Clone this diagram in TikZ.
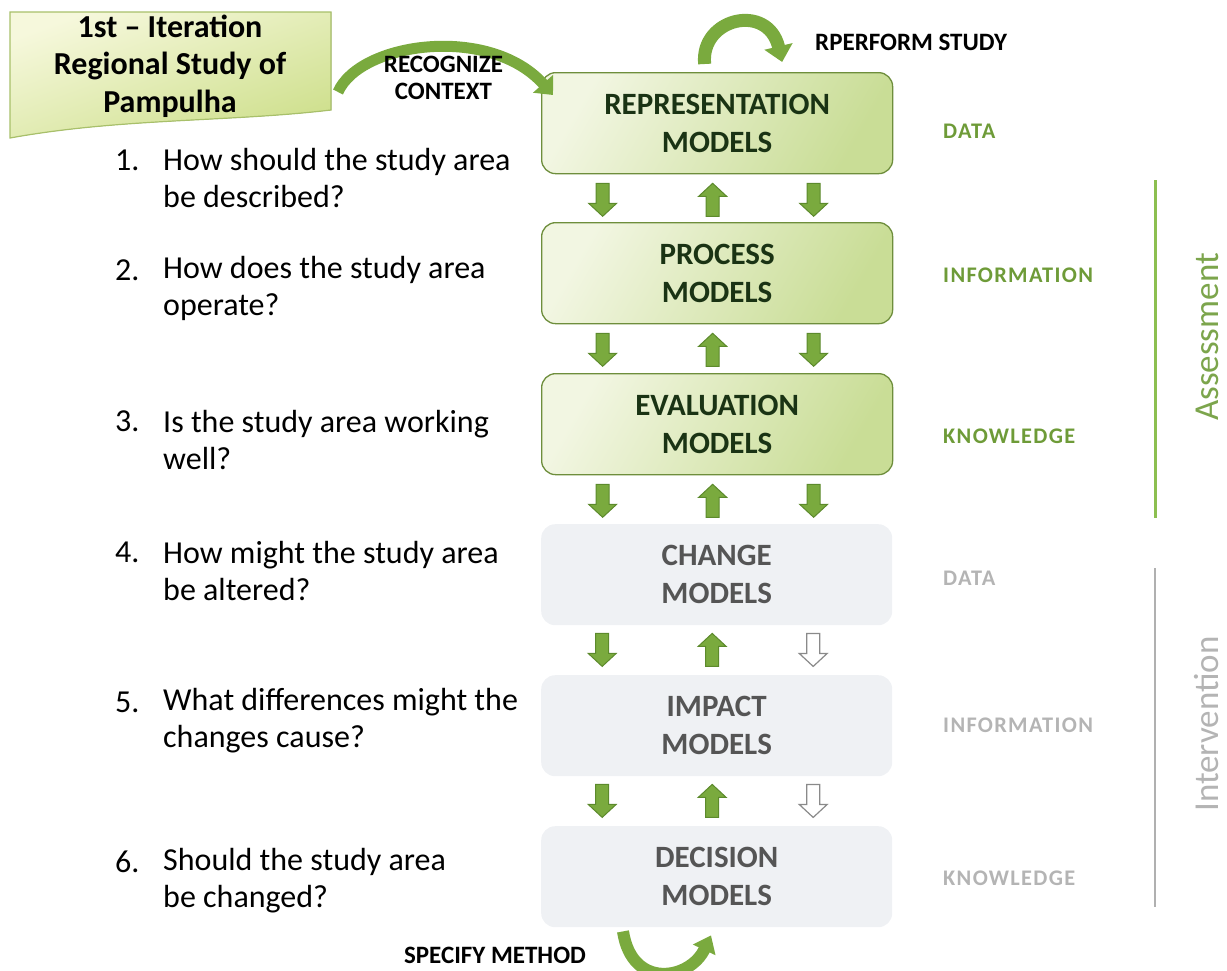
\documentclass[tikz,border=0pt]{standalone}
\usepackage{fontspec}
\setmainfont{Carlito}
\newfontfamily\spacedfont[LetterSpace=6]{Carlito}
\usetikzlibrary{arrows.meta,calc}

\definecolor{boxlight}{HTML}{F2F6E2}
\definecolor{boxgreen}{HTML}{C9DD96}
\definecolor{boxborder}{HTML}{6E8E3C}
\definecolor{darkgreen}{HTML}{1A3314}
\definecolor{graybox}{HTML}{EFF1F4}
\definecolor{graytext}{HTML}{555555}
\definecolor{labelgreen}{HTML}{6E9B38}
\definecolor{labelgray}{HTML}{B4B4B4}
\definecolor{linegreen}{HTML}{8CBF50}
\definecolor{linegray}{HTML}{B0B0B0}
\definecolor{arrfill}{HTML}{7AAA3E}
\definecolor{arrborder}{HTML}{5C8A2C}
\definecolor{arrhollow}{HTML}{8A8A8A}
\definecolor{bannerlight}{HTML}{F6F8DC}
\definecolor{bannergreen}{HTML}{CFE08E}
\definecolor{bannerborder}{HTML}{A8C06A}

\tikzset{
  pics/dnarr/.style={code={\filldraw[#1] (-6.5,0) -- (6.5,0) -- (6.5,20) -- (14,20) -- (0,33) -- (-14,20) -- (-6.5,20) -- cycle;}},
  pics/uparr/.style={code={\filldraw[#1] (-6.5,33) -- (6.5,33) -- (6.5,13) -- (14,13) -- (0,0) -- (-14,13) -- (-6.5,13) -- cycle;}},
  solidarr/.style={fill=arrfill, draw=arrborder, line width=1pt, line join=miter},
  hollowarr/.style={fill=white, draw=arrhollow, line width=1.2pt, line join=miter},
  curvearr/.style={draw=arrfill, line width=13pt},
  model/.style={rounded corners=14pt, minimum width=351pt, minimum height=101pt, align=center,
    font=\fontsize{31}{38}\selectfont\bfseries, inner sep=0pt, anchor=north west},
  greenmodel/.style={model, draw=boxborder, line width=1.3pt, left color=boxlight, right color=boxgreen, shading angle=60, text=darkgreen},
  graymodel/.style={model, fill=graybox, text=graytext},
  question/.style={anchor=west, align=left, font=\fontsize{32}{37}\selectfont, inner sep=0pt},
  qnum/.style={anchor=west, font=\fontsize{32}{37}\selectfont, inner sep=0pt},
  levelgreen/.style={anchor=west, inner sep=0pt, text=labelgreen, font=\spacedfont\fontsize{22.3}{25}\selectfont\bfseries},
  levelgray/.style={levelgreen, text=labelgray},
  actlabel/.style={align=center, inner sep=0pt, font=\fontsize{25}{27.5}\selectfont\bfseries},
  phase/.style={rotate=90, inner sep=0pt, anchor=base, font=\fontsize{35}{40}\selectfont},
}

\begin{document}
\begin{tikzpicture}[x=1pt,y=-1pt]
\useasboundingbox (0,0) rectangle (1227,970);

% banner
\filldraw[draw=bannerborder, line width=1.2pt, top color=bannerlight, bottom color=bannergreen, shading angle=20]
  (10,12) -- (331,12) -- (331,110) .. controls (230,122) and (120,118) .. (10,138) -- cycle;
\node[font=\fontsize{32}{37.5}\selectfont\bfseries, align=center, inner sep=0pt] (banner) at (170,66)
  {1st – Iteration\\Regional Study of\\Pampulha};

% model boxes
\node[greenmodel] (rep) at (541,72) {REPRESENTATION\\MODELS};
\node[greenmodel] (proc) at (541,222) {PROCESS\\MODELS};
\node[greenmodel] (eval) at (541,373) {EVALUATION\\MODELS};
\node[graymodel] (chg) at (541,524) {CHANGE\\MODELS};
\node[graymodel] (imp) at (541,675) {IMPACT\\MODELS};
\node[graymodel] (dec) at (541,826) {DECISION\\MODELS};

% block arrows between boxes
\foreach \b in {rep,proc,eval}{
  \pic at ($(\b.south)+(-114.5,9)$) {dnarr=solidarr};
  \pic at ($(\b.south)+(-4.5,9)$) {uparr=solidarr};
  \pic at ($(\b.south)+(96.5,9)$) {dnarr=solidarr};
}
\foreach \b in {chg,imp}{
  \pic at ($(\b.south)+(-114.5,8)$) {dnarr=solidarr};
  \pic at ($(\b.south)+(-4.5,8)$) {uparr=solidarr};
  \pic at ($(\b.south)+(96.5,8)$) {dnarr=hollowarr};
}

% curved arrows
\coordinate (recstart) at (338,92);
\draw[curvearr, line width=11pt, -{Triangle[width=26pt,length=15pt]}]
  (recstart) .. controls (360,42) and (490,24) .. ($(rep.north west)+(12,23)$);
\node[actlabel] (reclabel) at (443.5,78) {RECOGNIZE\\CONTEXT};

\draw[curvearr, -{Triangle[width=28pt,length=16pt]}]
  ($(rep.north)+(-12.5,-8)$) .. controls (700,18) and (768,2) .. ($(rep.north)+(65,-10)$);
\node[actlabel, anchor=west] (perf) at (815,42) {RPERFORM STUDY};

\draw[curvearr, line width=12pt, -{Triangle[width=24pt,length=16pt]}]
  ($(dec.south west)+(82,4)$) .. controls (632,990) and (690,980) .. ($(dec.south west)+(170,8)$);
\node[actlabel] (spec) at (495,955) {SPECIFY METHOD};

% questions
\node[qnum] (n1) at (115,160) {1.};
\node[question] (q1) at (163,178.5) {How should the study area\\be described?};
\node[qnum] (n2) at (115,270) {2.};
\node[question] (q2) at (163,288.5) {How does the study area\\operate?};
\node[qnum] (n3) at (115,421) {3.};
\node[question] (q3) at (163,439.5) {Is the study area working\\well?};
\node[qnum] (n4) at (115,552) {4.};
\node[question] (q4) at (163,570.5) {How might the study area\\be altered?};
\node[qnum] (n5) at (115,702) {5.};
\node[question] (q5) at (163,720.5) {What differences might the\\changes cause?};
\node[qnum] (n6) at (115,862) {6.};
\node[question] (q6) at (163,880.5) {Should the study area\\be changed?};

% level labels
\node[levelgreen] (l1) at (943,131) {DATA};
\node[levelgreen] (l2) at (943,275) {INFORMATION};
\node[levelgreen] (l3) at (943,436) {KNOWLEDGE};
\node[levelgray] (l4) at (943,578) {DATA};
\node[levelgray] (l5) at (943,725) {INFORMATION};
\node[levelgray] (l6) at (943,878) {KNOWLEDGE};

% phase bars
\draw[linegreen, line width=3pt] (1155,180) coordinate (ga) -- (1155,518) coordinate (gb);
\draw[linegray, line width=2pt] (1155,568) coordinate (ya) -- (1155,907) coordinate (yb);
\node[phase, text=labelgreen!90!white] (assess) at (1218,337) {Assessment};
\node[phase, text=labelgray] (interv) at (1218,724) {Intervention};
\end{tikzpicture}
\end{document}
